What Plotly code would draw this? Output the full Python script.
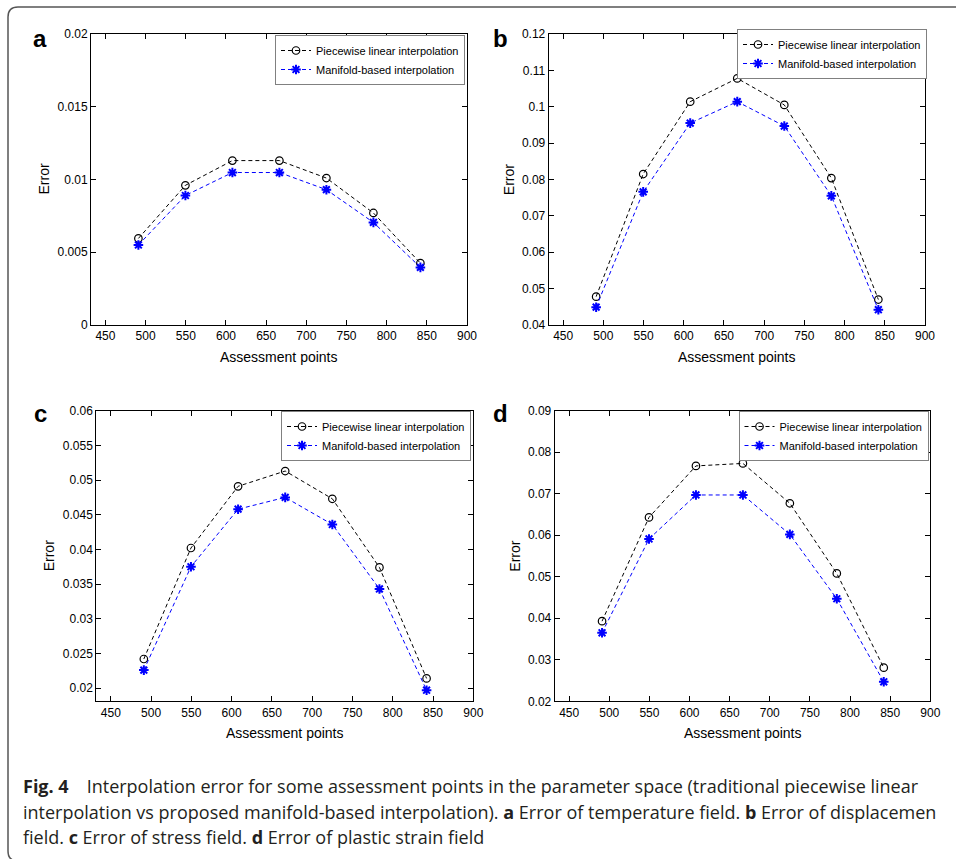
import plotly.graph_objects as go

W, H = 956, 859

x_points = [491, 549.5, 608, 666.5, 725, 783.5, 842]

a_linear = [0.00595, 0.0096, 0.0113, 0.0113, 0.0101, 0.0077, 0.00425]
a_manifold = [0.0055, 0.0089, 0.01048, 0.01048, 0.0093, 0.00705, 0.00396]

b_linear = [0.0478, 0.0815, 0.1014, 0.1078, 0.1005, 0.0804, 0.0470]
b_manifold = [0.0449, 0.0766, 0.0955, 0.1014, 0.0947, 0.0755, 0.0442]

c_linear = [0.0242, 0.0402, 0.0491, 0.0513, 0.0473, 0.0374, 0.0214]
c_manifold = [0.0226, 0.0375, 0.0458, 0.0475, 0.0436, 0.0343, 0.0197]

d_linear = [0.0393, 0.0643, 0.0767, 0.0773, 0.0677, 0.0508, 0.0281]
d_manifold = [0.0365, 0.0591, 0.0697, 0.0697, 0.0602, 0.0447, 0.0247]

x_ticks = [450, 500, 550, 600, 650, 700, 750, 800, 850, 900]
a_ticks = [0, 0.005, 0.01, 0.015, 0.02]
a_ticktext = ["0", "0.005", "0.01", "0.015", "0.02"]
b_ticks = [0.04, 0.05, 0.06, 0.07, 0.08, 0.09, 0.10, 0.11, 0.12]
b_ticktext = ["0.04", "0.05", "0.06", "0.07", "0.08", "0.09", "0.1", "0.11", "0.12"]
c_ticks = [0.02, 0.025, 0.03, 0.035, 0.04, 0.045, 0.05, 0.055, 0.06]
c_ticktext = ["0.02", "0.025", "0.03", "0.035", "0.04", "0.045", "0.05", "0.055", "0.06"]
d_ticks = [0.02, 0.03, 0.04, 0.05, 0.06, 0.07, 0.08, 0.09]
d_ticktext = ["0.02", "0.03", "0.04", "0.05", "0.06", "0.07", "0.08", "0.09"]

series_names = ["Piecewise linear interpolation", "Manifold-based interpolation"]
panel_letters = ["a", "b", "c", "d"]
caption_lines = [
    "<b>Fig. 4</b>\u2003Interpolation error for some assessment points in the parameter space (traditional piecewise linear",
    "interpolation vs proposed manifold-based interpolation). <b>a</b> Error of temperature field. <b>b</b> Error of displacemen",
    "field. <b>c</b> Error of stress field. <b>d</b> Error of plastic strain field",
]

# pixel boxes of the four axes: (left, right, top, bottom)
boxes = [(91, 467, 34, 325), (548.7, 925, 34, 325),
         (96.3, 473.3, 410.7, 701.3), (554.7, 930.3, 410.7, 701.3)]
yranges = [[0, 0.02], [0.04, 0.12], [0.0181, 0.06], [0.02, 0.09]]
yticks = [(a_ticks, a_ticktext), (b_ticks, b_ticktext), (c_ticks, c_ticktext), (d_ticks, d_ticktext)]
data = [(a_linear, a_manifold), (b_linear, b_manifold), (c_linear, c_manifold), (d_linear, d_manifold)]
legend_pos = [(275, 35), (737, 29), (281, 411), (738.5, 411)]
letter_pos = [(40, 38), (500, 38), (40, 413), (500, 413)]
ylabel_x = [43, 508.7, 49.3, 514.7]

def px(x):
    return x / W

def py(y):
    return 1 - y / H

FONT = "Liberation Sans, Arial, Helvetica, sans-serif"

fig = go.Figure()
layout = dict(width=W, height=H, margin=dict(l=0, r=0, t=0, b=0),
              paper_bgcolor="white", plot_bgcolor="white", showlegend=True,
              font=dict(family=FONT, color="black"))
annotations = []

for i in range(4):
    sfx = "" if i == 0 else str(i + 1)
    lin, man = data[i]
    leg = "legend" if i == 0 else f"legend{i+1}"
    fig.add_trace(go.Scatter(
        x=x_points, y=lin, mode="lines+markers", name=series_names[0],
        line=dict(color="black", width=1, dash="4px,3px"),
        marker=dict(symbol="circle-open", size=7.5, color="black", line=dict(width=1.2, color="black")),
        xaxis="x" + sfx, yaxis="y" + sfx, legend=leg))
    fig.add_trace(go.Scatter(
        x=x_points, y=man, mode="lines+markers", name=series_names[1],
        line=dict(color="#0000ff", width=1, dash="4px,3px"),
        marker=dict(symbol="asterisk-open", size=8, color="#0000ff", line=dict(width=2, color="#0000ff")),
        xaxis="x" + sfx, yaxis="y" + sfx, legend=leg))
    l, r, t, b = boxes[i]
    axis_common = dict(showline=True, linecolor="black", linewidth=1, mirror="ticks",
                       ticks="inside", ticklen=5, tickwidth=1, tickcolor="black",
                       showgrid=False, zeroline=False, automargin=False,
                       tickfont=dict(family=FONT, size=12, color="black"))
    layout["xaxis" + sfx] = dict(domain=[px(l), px(r)], range=[432, 900],
                                 tickvals=x_ticks, anchor="y" + sfx, **axis_common)
    layout["yaxis" + sfx] = dict(domain=[py(b), py(t)], range=yranges[i],
                                 tickvals=yticks[i][0], ticktext=yticks[i][1],
                                 anchor="x" + sfx, **axis_common)
    lx, ly = legend_pos[i]
    layout[leg] = dict(x=px(lx), y=py(ly), xanchor="left", yanchor="top",
                       bgcolor="white", bordercolor="#808080", borderwidth=1,
                       font=dict(family=FONT, size=11, color="black"),
                       tracegroupgap=0, itemwidth=30)
    # axis titles
    annotations.append(dict(text="Assessment points", xref="paper", yref="paper",
                            x=px((l + r) / 2), y=py(b + 32), xanchor="center", yanchor="middle",
                            showarrow=False, font=dict(family=FONT, size=14, color="black")))
    annotations.append(dict(text="Error", xref="paper", yref="paper",
                            x=px(ylabel_x[i]), y=py((t + b) / 2), xanchor="center", yanchor="middle",
                            textangle=-90, showarrow=False, font=dict(family=FONT, size=14, color="black")))
    lx2, ly2 = letter_pos[i]
    annotations.append(dict(text="<b>" + panel_letters[i] + "</b>", xref="paper", yref="paper",
                            x=px(lx2), y=py(ly2), xanchor="center", yanchor="middle",
                            showarrow=False, font=dict(family=FONT, size=24, color="black")))

cap_y = [786, 811.5, 837]
for j, line in enumerate(caption_lines):
    annotations.append(dict(text=line, xref="paper", yref="paper",
                            x=px(21), y=py(cap_y[j]), xanchor="left", yanchor="middle",
                            showarrow=False, align="left",
                            font=dict(family="Open Sans, Noto Sans, sans-serif", size=18, color="#231f20")))

layout["annotations"] = annotations

# outer rounded frame (open on the right and bottom)
frame_path = (f"M {px(960)} {py(7)} L {px(18)} {py(7)} Q {px(8)} {py(7)} {px(8)} {py(17)} "
              f"L {px(8)} {py(851)} Q {px(8)} {py(861)} {px(18)} {py(861)}")
layout["shapes"] = [dict(type="path", path=frame_path, xref="paper", yref="paper",
                         line=dict(color="#555555", width=1.5))]

fig.update_layout(**layout)
fig.write_html("out.html", config={"displayModeBar": False},
               post_script="document.body.style.margin='0';document.body.style.overflow='hidden';")
